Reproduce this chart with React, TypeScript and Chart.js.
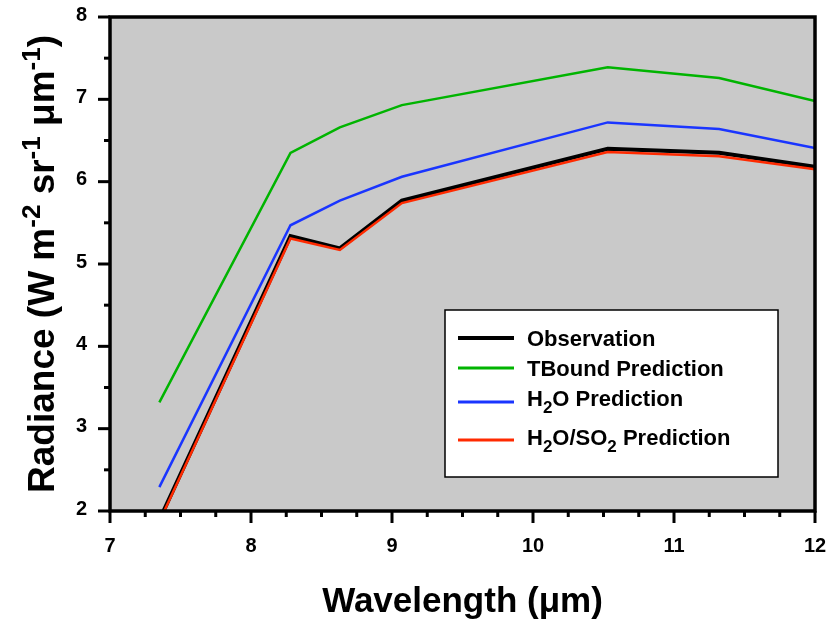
import React, { useEffect, useRef } from "react";
import { Chart, registerables } from "chart.js";
Chart.register(...registerables);

// ---- data ----
const wavelengths = [7.35, 8.28, 8.63, 9.07, 10.53, 11.32, 12.0];
const observation = [1.89, 5.34, 5.19, 5.77, 6.4, 6.35, 6.18];
const tboundPrediction = [3.32, 6.35, 6.66, 6.93, 7.39, 7.26, 6.98];
const h2oPrediction = [2.29, 5.47, 5.77, 6.06, 6.72, 6.64, 6.41];
const h2oSo2Prediction = [1.87, 5.31, 5.17, 5.74, 6.36, 6.31, 6.15];

const seriesLabels = ["Observation", "TBound Prediction", "H2O Prediction", "H2O/SO2 Prediction"];
const seriesColors = ["#000000", "#00b400", "#1a35ff", "#ff2a00"];
const seriesWidths = [4, 2.5, 2.5, 2.5];

const xMin = 7, xMax = 12, yMin = 2, yMax = 8;

const FONT = "Arial, 'Liberation Sans', sans-serif";

type Seg = { t: string; sub?: boolean; sup?: boolean };
// legend labels with subscripts
const legendRich: Seg[][] = [
  [{ t: "Observation" }],
  [{ t: "TBound Prediction" }],
  [{ t: "H" }, { t: "2", sub: true }, { t: "O Prediction" }],
  [{ t: "H" }, { t: "2", sub: true }, { t: "O/SO" }, { t: "2", sub: true }, { t: " Prediction" }],
];
const yTitle: Seg[] = [
  { t: "Radiance (W m" }, { t: "-2", sup: true }, { t: " sr" }, { t: "-1", sup: true },
  { t: " \u03bcm" }, { t: "-1", sup: true }, { t: ")" },
];
const xTitle = "Wavelength (\u03bcm)";

function drawSegs(ctx: CanvasRenderingContext2D, segs: Seg[], x: number, y: number, size: number, small: number, shift: number, center: boolean) {
  const widths = segs.map((s) => {
    ctx.font = `bold ${s.sub || s.sup ? small : size}px ${FONT}`;
    return ctx.measureText(s.t).width;
  });
  const total = widths.reduce((a, b) => a + b, 0);
  let cx = center ? x - total / 2 : x;
  segs.forEach((s, i) => {
    ctx.font = `bold ${s.sub || s.sup ? small : size}px ${FONT}`;
    const dy = s.sub ? shift : s.sup ? -shift : 0;
    ctx.fillText(s.t, cx, y + dy);
    cx += widths[i];
  });
}

const framePlugin = {
  id: "frame",
  beforeDraw(chart: any) {
    const { ctx, chartArea: a } = chart;
    ctx.save();
    ctx.fillStyle = "#c9c9c9";
    ctx.fillRect(a.left, a.top, a.right - a.left, a.bottom - a.top);
    ctx.restore();
  },
  afterDraw(chart: any) {
    const { ctx, chartArea: a, scales } = chart;
    const xs = scales.x, ys = scales.y;
    ctx.save();
    // ticks
    ctx.strokeStyle = "#000";
    ctx.lineWidth = 3;
    ctx.lineCap = "butt";
    for (let v = xMin; v <= xMax + 1e-9; v += 0.25) {
      const px = xs.getPixelForValue(v);
      const major = Math.abs(v - Math.round(v)) < 1e-6;
      ctx.beginPath();
      ctx.moveTo(px, a.bottom);
      ctx.lineTo(px, a.bottom + (major ? 12 : 6));
      ctx.stroke();
    }
    for (let v = yMin; v <= yMax + 1e-9; v += 0.5) {
      const py = ys.getPixelForValue(v);
      const major = Math.abs(v - Math.round(v)) < 1e-6;
      ctx.beginPath();
      ctx.moveTo(a.left, py);
      ctx.lineTo(a.left - (major ? 12 : 6), py);
      ctx.stroke();
    }
    // frame
    ctx.lineWidth = 3.5;
    ctx.strokeRect(a.left, a.top, a.right - a.left, a.bottom - a.top);

    // legend
    const lx = 445, ly = 310, lw = 333, lh = 167;
    ctx.fillStyle = "#fff";
    ctx.fillRect(lx, ly, lw, lh);
    ctx.lineWidth = 1.5;
    ctx.strokeStyle = "#000";
    ctx.strokeRect(lx, ly, lw, lh);
    const lineYs = [338, 368, 402, 440];
    const textYs = [346, 376, 406, 444.5];
    ctx.textBaseline = "alphabetic";
    ctx.textAlign = "left";
    legendRich.forEach((segs, i) => {
      ctx.strokeStyle = seriesColors[i];
      ctx.lineWidth = i === 0 ? 4 : 3;
      ctx.beginPath();
      ctx.moveTo(458, lineYs[i]);
      ctx.lineTo(514, lineYs[i]);
      ctx.stroke();
      ctx.fillStyle = "#000";
      drawSegs(ctx, segs, 527, textYs[i], 22, 17, 7, false);
    });

    // axis titles
    ctx.fillStyle = "#000";
    ctx.font = `bold 35px ${FONT}`;
    ctx.textAlign = "center";
    ctx.fillText(xTitle, (a.left + a.right) / 2, 612);
    ctx.textAlign = "left";
    ctx.save();
    ctx.translate(54, (a.top + a.bottom) / 2);
    ctx.rotate(-Math.PI / 2);
    drawSegs(ctx, yTitle, 0, 0, 37, 26, 14, true);
    ctx.restore();
    ctx.restore();
  },
};

export default function App() {
  const ref = useRef<HTMLCanvasElement | null>(null);
  useEffect(() => {
    document.body.style.margin = "0";
    const canvas = ref.current!;
    const mk = (vals: number[]) => wavelengths.map((x, i) => ({ x, y: vals[i] }));
    const all = [observation, tboundPrediction, h2oPrediction, h2oSo2Prediction];
    const orders = [3, 2, 1, 0];
    const chart = new Chart(canvas, {
      type: "line",
      data: {
        datasets: all.map((vals, i) => ({
          label: seriesLabels[i],
          data: mk(vals),
          borderColor: seriesColors[i],
          backgroundColor: seriesColors[i],
          borderWidth: seriesWidths[i],
          pointRadius: 0,
          tension: 0,
          fill: false,
          order: orders[i],
        })),
      },
      options: {
        responsive: false,
        animation: false,
        layout: { padding: { top: 17, right: 16, left: 76, bottom: 0 } },
        plugins: { legend: { display: false }, tooltip: { enabled: false }, title: { display: false } },
        scales: {
          x: {
            type: "linear",
            min: xMin,
            max: xMax,
            afterFit: (s: any) => { s.height = 110; },
            grid: { display: false, drawTicks: false },
            border: { display: false },
            ticks: { stepSize: 1, padding: 0, color: "#000", font: { family: FONT, size: 20, weight: "bold", lineHeight: 3.5 } },
          },
          y: {
            type: "linear",
            min: yMin,
            max: yMax,
            afterFit: (s: any) => { s.width = 34; },
            grid: { display: false, drawTicks: false },
            border: { display: false },
            ticks: { stepSize: 1, padding: 0, labelOffset: -2, crossAlign: "far", color: "#000", font: { family: FONT, size: 20, weight: "bold" } },
          },
        },
      },
      plugins: [framePlugin],
    } as any);
    return () => chart.destroy();
  }, []);
  return (
    <div style={{ width: 831, height: 621 }}>
      <canvas ref={ref} width={831} height={621} />
    </div>
  );
}
